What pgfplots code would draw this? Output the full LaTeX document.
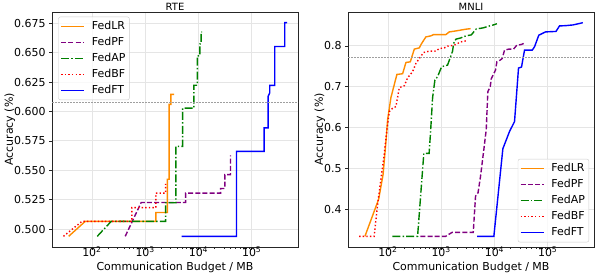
\documentclass[border=0pt]{standalone}
\usepackage{fontspec}
\setmainfont{DejaVu Sans}
\usepackage{pgfplots}
\pgfplotsset{compat=1.18}
\definecolor{cLR}{HTML}{FF8C00}
\definecolor{cPF}{HTML}{800080}
\definecolor{cAP}{HTML}{008000}
\definecolor{cBF}{HTML}{FF0000}
\definecolor{cFT}{HTML}{0000FF}
\tikzset{
  sLR/.style={cLR, solid, line width=1.4bp},
  sPF/.style={cPF, line width=1.4bp, dash pattern=on 5bp off 2.2bp},
  sAP/.style={cAP, line width=1.4bp, dash pattern=on 8bp off 2.2bp on 1.4bp off 2.2bp},
  sBF/.style={cBF, line width=1.4bp, dash pattern=on 1.4bp off 2.2bp},
  sFT/.style={cFT, solid, line width=1.4bp},
  sTH/.style={gray!75, line width=0.8bp, dash pattern=on 2bp off 1bp},
}
\begin{document}
\begin{tikzpicture}
\useasboundingbox (0,0) rectangle (596bp,274bp);
% ---------------- RTE ----------------
\begin{axis}[
    scale only axis, width=246bp, height=235bp,
    anchor=south west, at={(52bp,27bp)},
    xmode=log, xmin=17.8, xmax=7.4e5,
    xtick={100,1000,10000,100000},
    xticklabels={10\textsuperscript{2},10\textsuperscript{3},10\textsuperscript{4},10\textsuperscript{5}},
    axis line style={black!85, line width=0.9bp},
    grid=major, major grid style={gray!20, line width=0.8bp},
    tick align=outside, xtick pos=bottom, ytick pos=left,
    major tick length=3bp, minor tick length=1.8bp,
    tick style={black!85, line width=0.6bp},
    /pgf/number format/assume math mode=true,
    ticklabel style={font=\fontsize{11}{13}\selectfont},
    label style={font=\fontsize{11}{13}\selectfont},
    every axis title shift=0pt,
    title style={font=\fontsize{10}{12}\selectfont, at={(0.5,1)}, anchor=south, inner sep=1.5bp},
    title={RTE},
    xlabel={Communication Budget / MB},
    ylabel={Accuracy (\%)},
    xlabel style={at={(axis description cs:0.5,0)}, anchor=center, yshift=-20.5bp},
    xticklabel style={yshift=6.5bp},
    legend cell align=left,
    legend style={font=\fontsize{11}{13}\selectfont, draw=gray!40, rounded corners=2bp,
      fill=white, fill opacity=0.8, text opacity=1, inner xsep=2bp, inner ysep=1.5bp,
      nodes={text height=8bp, text depth=2bp, inner ysep=3bp, inner xsep=2bp}, row sep=0bp,
      /tikz/every odd column/.append style={column sep=5bp},
      at={(0.0256,0.98)}, anchor=north west},
    legend image code/.code={\draw[#1] (0bp,0bp) -- (23bp,0bp);},
    ymin=0.4847, ymax=0.6847,
    ytick={0.5,0.525,0.55,0.575,0.6,0.625,0.65,0.675},
    yticklabel style={/pgf/number format/.cd, fixed, fixed zerofill, precision=3},
    ylabel style={at={(axis description cs:-0.171,0.5)}, anchor=center},
  ]
\addplot[sLR, no markers] coordinates {(36.6,0.4938)(74.8,0.5065)(1589,0.5065)(1589,0.5141)(2612,0.5141)(2612,0.5424)(2818,0.5424)(2818,0.6061)(3034,0.6061)(3034,0.6146)(3500,0.6146)};
\addlegendentry{FedLR}
\addplot[sPF, no markers] coordinates {(422,0.4938)(841,0.5226)(5728,0.5226)(5728,0.5305)(26000,0.5305)(26000,0.5345)(31270,0.5345)(31270,0.5463)(40000,0.5463)(40000,0.5627)};
\addlegendentry{FedPF}
\addplot[sAP, no markers] coordinates {(126,0.4938)(230,0.5065)(2416,0.5065)(2416,0.5224)(3767,0.5224)(3767,0.5703)(5035,0.5703)(5035,0.6029)(8205,0.6029)(8205,0.6224)(9530,0.6224)(9530,0.6474)(10620,0.6474)(10620,0.6575)(11240,0.6575)(11240,0.6677)(11730,0.6677)};
\addlegendentry{FedAP}
\addplot[sBF, no markers] coordinates {(29.2,0.4938)(64.9,0.5065)(563,0.5065)(563,0.5182)(1589,0.5182)(1589,0.5305)(2416,0.5305)(2416,0.5385)};
\addlegendentry{FedBF}
\addplot[sFT, no markers] coordinates {(4820,0.4938)(51880,0.4938)(51880,0.5661)(171000,0.5661)(171000,0.5861)(203300,0.5861)(203300,0.6129)(218600,0.6160)(218600,0.6222)(271300,0.6222)(271300,0.6553)(417600,0.6553)(417600,0.6756)(461500,0.6756)};
\addlegendentry{FedFT}
\addplot[sTH, no markers, forget plot] coordinates {(17.8,0.6075)(7.4e5,0.6075)};
\end{axis}
% ---------------- MNLI ----------------
\begin{axis}[
    scale only axis, width=246bp, height=235bp,
    anchor=south west, at={(348bp,27bp)},
    xmode=log, xmin=17.8, xmax=7.4e5,
    xtick={100,1000,10000,100000},
    xticklabels={10\textsuperscript{2},10\textsuperscript{3},10\textsuperscript{4},10\textsuperscript{5}},
    axis line style={black!85, line width=0.9bp},
    grid=major, major grid style={gray!20, line width=0.8bp},
    tick align=outside, xtick pos=bottom, ytick pos=left,
    major tick length=3bp, minor tick length=1.8bp,
    tick style={black!85, line width=0.6bp},
    /pgf/number format/assume math mode=true,
    ticklabel style={font=\fontsize{11}{13}\selectfont},
    label style={font=\fontsize{11}{13}\selectfont},
    every axis title shift=0pt,
    title style={font=\fontsize{10}{12}\selectfont, at={(0.5,1)}, anchor=south, inner sep=1.5bp},
    title={MNLI},
    xlabel={Communication Budget / MB},
    ylabel={Accuracy (\%)},
    xlabel style={at={(axis description cs:0.5,0)}, anchor=center, yshift=-20.5bp},
    xticklabel style={yshift=6.5bp},
    legend cell align=left,
    legend style={font=\fontsize{11}{13}\selectfont, draw=gray!40, rounded corners=2bp,
      fill=white, fill opacity=0.8, text opacity=1, inner xsep=2bp, inner ysep=1.5bp,
      nodes={text height=8bp, text depth=2bp, inner ysep=3bp, inner xsep=2bp}, row sep=0bp,
      /tikz/every odd column/.append style={column sep=5bp},
      at={(0.98,0.02)}, anchor=south east},
    legend image code/.code={\draw[#1] (0bp,0bp) -- (23bp,0bp);},
    ymin=0.3081, ymax=0.8828,
    ytick={0.4,0.5,0.6,0.7,0.8},
    yticklabel style={/pgf/number format/.cd, fixed, fixed zerofill, precision=1},
    ylabel style={at={(axis description cs:-0.114,0.5)}, anchor=center},
  ]
\addplot[sLR, no markers] coordinates {(37.0,0.3342)(67.0,0.425)(81.2,0.4859)(92.5,0.5711)(98.7,0.6198)(106.2,0.6473)(113.8,0.6734)(147.4,0.7301)(188.7,0.7318)(217.7,0.7593)(263.3,0.7610)(312.6,0.7920)(388.0,0.7951)(428.6,0.8056)(516.0,0.8219)(640.9,0.8244)(719.8,0.8275)(1224,0.8275)(1419,0.8341)(1888,0.8365)(2904,0.8407)(3562,0.8421)};
\addlegendentry{FedLR}
\addplot[sPF, no markers] coordinates {(405.5,0.3342)(1210,0.3342)(1603,0.3439)(4000,0.3439)(4416,0.4323)(4920,0.4408)(5478,0.4810)(6324,0.5468)(7016,0.5955)(7516,0.6880)(8337,0.7002)(8707,0.7196)(10490,0.7408)(11100,0.7610)(12850,0.7652)(14010,0.7691)(15460,0.7895)(18620,0.7920)(22810,0.7920)(26300,0.8017)(31830,0.8032)(38300,0.8080)};
\addlegendentry{FedPF}
\addplot[sAP, no markers] coordinates {(121.4,0.3342)(360.5,0.3342)(471.9,0.5370)(593.3,0.5370)(632.6,0.5906)(689.9,0.6734)(762.3,0.7165)(855.8,0.7245)(1018,0.7489)(1318,0.7530)(1636,0.7871)(1709,0.8056)(1888,0.8163)(2344,0.8195)(2904,0.8244)(3670,0.8268)(4558,0.8414)(6058,0.8438)(8091,0.8487)(10040,0.8519)(11100,0.8543)};
\addlegendentry{FedAP}
\addplot[sBF, no markers] coordinates {(28.8,0.3342)(55.1,0.3342)(63.5,0.408)(72.9,0.4688)(83.0,0.5224)(95.8,0.5947)(106.2,0.6393)(122.4,0.6473)(141.3,0.6515)(163.6,0.6977)(203.2,0.7026)(234.3,0.7221)(290.6,0.7367)(335.2,0.7569)(388.0,0.7691)(467.5,0.7837)(598.4,0.7871)(795.6,0.7871)(920.7,0.7934)(1143,0.7951)(1318,0.7993)(1762,0.8017)(2344,0.8097)(2904,0.8122)};
\addlegendentry{FedBF}
\addplot[sFT, no markers] coordinates {(4753,0.3342)(9747,0.3342)(14390,0.5485)(19190,0.5906)(23830,0.6149)(28310,0.7457)(32220,0.7481)(36700,0.7895)(51190,0.7895)(56530,0.7976)(68050,0.8261)(90910,0.8341)(143100,0.8353)(166400,0.8487)(215600,0.8494)(295800,0.8511)(383100,0.8543)(455800,0.8567)};
\addlegendentry{FedFT}
\addplot[sTH, no markers, forget plot] coordinates {(17.8,0.771)(7.4e5,0.771)};
\end{axis}
\end{tikzpicture}
\end{document}
